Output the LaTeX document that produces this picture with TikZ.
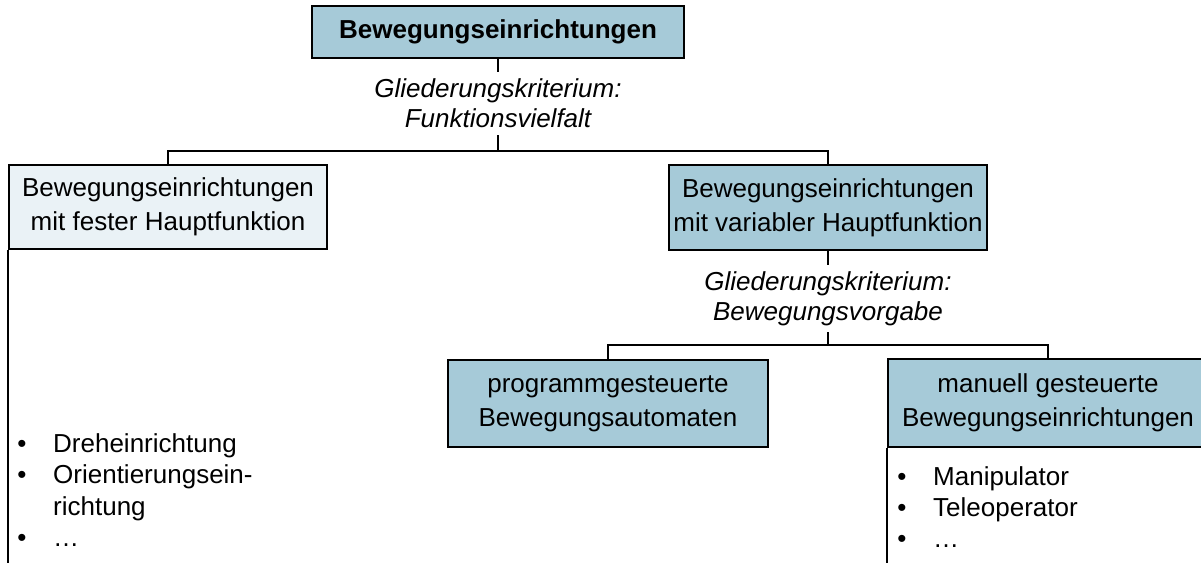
\documentclass[tikz,border=0pt]{standalone}
\usepackage{fontspec}
\setmainfont{Liberation Sans}
\definecolor{boxblue}{RGB}{166,202,216}
\definecolor{boxlight}{RGB}{234,242,246}
\begin{document}
\begin{tikzpicture}[x=1pt,y=-1pt,
  every node/.style={inner sep=0pt, font=\fontsize{26}{34}\selectfont},
  box/.style={draw=black, line width=2pt, fill=boxblue, align=center, minimum width=318pt, minimum height=85pt},
  lightbox/.style={box, fill=boxlight},
  crit/.style={align=center, font=\fontsize{26}{30}\selectfont\itshape},
  conn/.style={line width=1.8pt, draw=black},
  item/.style={anchor=base west},
  bul/.style={anchor=base},
]
\useasboundingbox (0,0) rectangle (1201,562);
\clip (0,0) rectangle (1201,562);
% level 0
\node[box, font=\fontsize{26}{34}\selectfont\bfseries, minimum width=372pt, minimum height=52pt] (top) at (498,32) {Bewegungseinrichtungen};
\node[crit, minimum height=63pt] (c1) at (498,103.5) {Gliederungskriterium:\\Funktionsvielfalt};
\coordinate (j1) at (498,151);
% level 1
\node[lightbox, minimum height=84pt] (left) at (168,207) {Bewegungseinrichtungen\\mit fester Hauptfunktion};
\node[box] (right) at (828,207.5) {Bewegungseinrichtungen\\mit variabler Hauptfunktion};
\node[crit, minimum height=67pt] (c2) at (828,298.5) {Gliederungskriterium:\\Bewegungsvorgabe};
\coordinate (j2) at (828,345);
% level 2
\node[box, minimum width=320pt, minimum height=87pt] (prog) at (608,403.5) {programmgesteuerte\\Bewegungsautomaten};
\node[box, minimum width=320pt, minimum height=88pt] (man) at (1048,403) {manuell gesteuerte\\Bewegungseinrichtungen};
% connectors
\draw[conn] (top.south) -- (c1.north);
\draw[conn] (c1.south) -- (j1);
\draw[conn] (left.north) |- (j1) -| (right.north);
\draw[conn] (right.south) -- (c2.north);
\draw[conn] (c2.south) -- (j2);
\draw[conn] (prog.north) |- (j2) -| (man.north);
% list panels
\coordinate (bottom) at (0,575);
\draw[line width=2pt] (left.south west) -- (left.south west |- bottom);
\draw[line width=2pt] (man.south west) -- (man.south west |- bottom);
% left list
\node[bul] (lb1) at (22,452) {•};
\node[item] (li1) at (53,452) {Dreheinrichtung};
\node[bul] (lb2) at (22,483.5) {•};
\node[item] (li2) at (53,483.5) {Orientierungsein-};
\node[item] (li3) at (53,515) {richtung};
\node[bul] (lb4) at (22,546.5) {•};
\node[item] (li4) at (53,546.5) {…};
% right list
\node[bul] (rb1) at (902,485) {•};
\node[item] (ri1) at (933,485) {Manipulator};
\node[bul] (rb2) at (902,516) {•};
\node[item] (ri2) at (933,516) {Teleoperator};
\node[bul] (rb3) at (902,547) {•};
\node[item] (ri3) at (933,547) {…};
\end{tikzpicture}
\end{document}
